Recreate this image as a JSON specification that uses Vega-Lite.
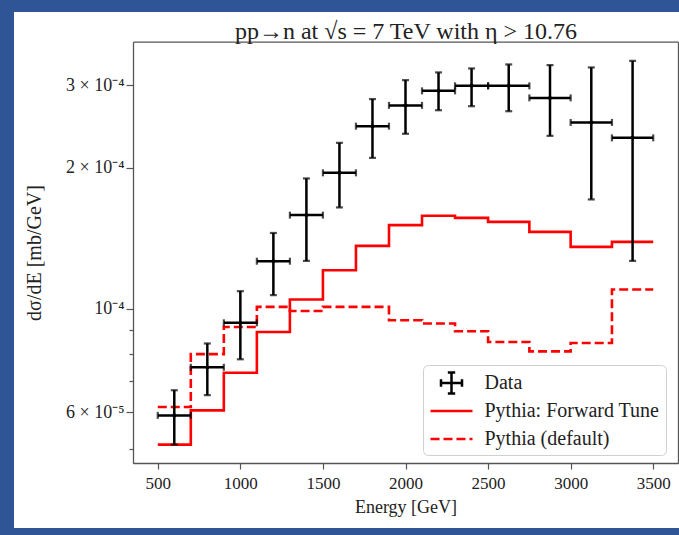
{
  "$schema": "https://vega.github.io/schema/vega-lite/v6.json",
  "width": 665,
  "height": 516,
  "autosize": {"type": "none"},
  "padding": {"left": 14, "top": 12, "right": 0, "bottom": 7},
  "background": "#2f5597",
  "config": {
    "view": {"fill": "white", "stroke": null},
    "font": "Liberation Serif",
    "axis": {
      "grid": false,
      "labelFont": "Liberation Serif",
      "titleFont": "Liberation Serif",
      "labelFontSize": 17,
      "titleFontSize": 18,
      "titleFontWeight": "normal",
      "labelColor": "#222",
      "titleColor": "#222",
      "domainColor": "#555",
      "tickColor": "#555",
      "domainWidth": 1.3,
      "tickWidth": 1.2
    },
    "legend": {
      "orient": "none",
      "legendX": 409,
      "legendY": 353,
      "symbolSize": 441,
      "symbolStrokeWidth": 2.5,
      "labelFont": "Liberation Serif",
      "labelFontSize": 20,
      "labelColor": "#222",
      "labelLimit": 400,
      "padding": 6,
      "rowPadding": -5.5,
      "gridAlign": "all",
      "fillColor": "white",
      "strokeColor": "#d0d0d0",
      "cornerRadius": 5,
      "symbolOffset": 10.5,
      "labelOffset": 21
    }
  },
  "datasets": {
    "data": [
      {"series": "Data", "E": 600, "Elo": 500, "Ehi": 700, "v": 5.91e-5, "lo": 5.12e-5, "hi": 6.69e-5},
      {"series": "Data", "E": 800, "Elo": 700, "Ehi": 900, "v": 7.49e-5, "lo": 6.53e-5, "hi": 8.42e-5},
      {"series": "Data", "E": 1000, "Elo": 900, "Ehi": 1100, "v": 9.32e-5, "lo": 7.79e-5, "hi": 1.089e-4},
      {"series": "Data", "E": 1200, "Elo": 1100, "Ehi": 1300, "v": 1.262e-4, "lo": 1.068e-4, "hi": 1.45e-4},
      {"series": "Data", "E": 1400, "Elo": 1300, "Ehi": 1500, "v": 1.583e-4, "lo": 1.264e-4, "hi": 1.896e-4},
      {"series": "Data", "E": 1600, "Elo": 1500, "Ehi": 1700, "v": 1.949e-4, "lo": 1.644e-4, "hi": 2.259e-4},
      {"series": "Data", "E": 1800, "Elo": 1700, "Ehi": 1900, "v": 2.452e-4, "lo": 2.098e-4, "hi": 2.801e-4},
      {"series": "Data", "E": 2000, "Elo": 1900, "Ehi": 2100, "v": 2.716e-4, "lo": 2.362e-4, "hi": 3.075e-4},
      {"series": "Data", "E": 2200, "Elo": 2100, "Ehi": 2300, "v": 2.917e-4, "lo": 2.652e-4, "hi": 3.194e-4},
      {"series": "Data", "E": 2400, "Elo": 2300, "Ehi": 2500, "v": 2.99e-4, "lo": 2.705e-4, "hi": 3.257e-4},
      {"series": "Data", "E": 2625, "Elo": 2500, "Ehi": 2750, "v": 2.99e-4, "lo": 2.639e-4, "hi": 3.322e-4},
      {"series": "Data", "E": 2875, "Elo": 2750, "Ehi": 3000, "v": 2.818e-4, "lo": 2.338e-4, "hi": 3.311e-4},
      {"series": "Data", "E": 3125, "Elo": 3000, "Ehi": 3250, "v": 2.497e-4, "lo": 1.71e-4, "hi": 3.273e-4},
      {"series": "Data", "E": 3375, "Elo": 3250, "Ehi": 3500, "v": 2.315e-4, "lo": 1.264e-4, "hi": 3.381e-4}
    ],
    "pythia": [
      {"series": "Pythia: Forward Tune", "E": 500, "v": 5.12e-5},
      {"series": "Pythia: Forward Tune", "E": 700, "v": 6.06e-5},
      {"series": "Pythia: Forward Tune", "E": 900, "v": 7.29e-5},
      {"series": "Pythia: Forward Tune", "E": 1100, "v": 8.91e-5},
      {"series": "Pythia: Forward Tune", "E": 1300, "v": 1.045e-4},
      {"series": "Pythia: Forward Tune", "E": 1500, "v": 1.207e-4},
      {"series": "Pythia: Forward Tune", "E": 1700, "v": 1.361e-4},
      {"series": "Pythia: Forward Tune", "E": 1900, "v": 1.507e-4},
      {"series": "Pythia: Forward Tune", "E": 2100, "v": 1.578e-4},
      {"series": "Pythia: Forward Tune", "E": 2300, "v": 1.562e-4},
      {"series": "Pythia: Forward Tune", "E": 2500, "v": 1.531e-4},
      {"series": "Pythia: Forward Tune", "E": 2750, "v": 1.458e-4},
      {"series": "Pythia: Forward Tune", "E": 3000, "v": 1.354e-4},
      {"series": "Pythia: Forward Tune", "E": 3250, "v": 1.388e-4},
      {"series": "Pythia: Forward Tune", "E": 3500, "v": 1.388e-4},
      {"series": "Pythia (default)", "E": 500, "v": 6.16e-5},
      {"series": "Pythia (default)", "E": 700, "v": 7.99e-5},
      {"series": "Pythia (default)", "E": 900, "v": 9.13e-5},
      {"series": "Pythia (default)", "E": 1100, "v": 1.008e-4},
      {"series": "Pythia (default)", "E": 1300, "v": 9.88e-5},
      {"series": "Pythia (default)", "E": 1500, "v": 1.008e-4},
      {"series": "Pythia (default)", "E": 1700, "v": 1.008e-4},
      {"series": "Pythia (default)", "E": 1900, "v": 9.44e-5},
      {"series": "Pythia (default)", "E": 2100, "v": 9.29e-5},
      {"series": "Pythia (default)", "E": 2300, "v": 8.94e-5},
      {"series": "Pythia (default)", "E": 2500, "v": 8.48e-5},
      {"series": "Pythia (default)", "E": 2750, "v": 8.1e-5},
      {"series": "Pythia (default)", "E": 3000, "v": 8.44e-5},
      {"series": "Pythia (default)", "E": 3250, "v": 1.098e-4},
      {"series": "Pythia (default)", "E": 3500, "v": 1.098e-4}
    ]
  },
  "resolve": {"axis": {"x": "independent", "y": "independent"}},
  "layer": [
    {
      "data": {"name": "pythia"},
      "mark": {"type": "line", "interpolate": "step-after", "strokeWidth": 2.6},
      "encoding": {
        "x": {
          "field": "E", "type": "quantitative",
          "scale": {"domain": [350, 3650], "range": [119, 664], "nice": false, "zero": false},
          "axis": {
            "values": [500, 1000, 1500, 2000, 2500, 3000, 3500],
            "offset": -65,
            "tickSize": 6,
            "labelPadding": 6,
            "titlePadding": 7,
            "title": "Energy [GeV]",
            "format": "d"
          }
        },
        "y": {
          "field": "v", "type": "quantitative",
          "scale": {"type": "log", "domain": [4.67e-5, 3.715e-4], "range": [451.3, 29.7], "nice": false, "zero": false},
          "axis": {
            "values": [5e-5, 6e-5, 7e-5, 8e-5, 9e-5, 1e-4, 2e-4, 3e-4],
            "offset": -119,
            "tickSize": {"condition": {"test": "datum.value < 5.5e-5 || (datum.value > 6.5e-5 && datum.value < 9.5e-5)", "value": 4}, "value": 7},
            "labelPadding": 2,
            "labelFontSize": 18,
            "labelExpr": "datum.value > 2.5e-4 ? '3 × 10⁻⁴' : datum.value > 1.5e-4 ? '2 × 10⁻⁴' : datum.value > 9.5e-5 ? '10⁻⁴' : (datum.value > 5.5e-5 && datum.value < 6.5e-5) ? '6 × 10⁻⁵' : ''",
            "title": "dσ/dE [mb/GeV]",
            "titleFontSize": 20,
            "titlePadding": 21
          }
        },
        "color": {
          "field": "series", "type": "nominal",
          "scale": {"domain": ["Data", "Pythia: Forward Tune", "Pythia (default)"], "range": ["black", "#ff0000", "#ff0000"]},
          "legend": {"title": null, "orient": "none", "legendX": 409, "legendY": 353}
        },
        "strokeDash": {
          "field": "series", "type": "nominal",
          "scale": {"domain": ["Data", "Pythia: Forward Tune", "Pythia (default)"], "range": [[1, 0], [1, 0], [9, 4]]},
          "legend": {"title": null, "orient": "none", "legendX": 409, "legendY": 353}
        }
      }
    },
    {
      "data": {"name": "data"},
      "mark": {"type": "rule", "color": "black", "strokeWidth": 2.5},
      "encoding": {
        "x": {"field": "E", "type": "quantitative", "axis": null},
        "y": {"field": "lo", "type": "quantitative", "axis": null},
        "y2": {"field": "hi"}
      }
    },
    {
      "data": {"name": "data"},
      "mark": {"type": "rule", "color": "black", "strokeWidth": 2.5},
      "encoding": {
        "x": {"field": "Elo", "type": "quantitative", "axis": null},
        "x2": {"field": "Ehi"},
        "y": {"field": "v", "type": "quantitative", "axis": null}
      }
    },
    {
      "data": {"name": "data"},
      "mark": {"type": "tick", "orient": "horizontal", "color": "black", "size": 7, "thickness": 2.2},
      "encoding": {
        "x": {"field": "E", "type": "quantitative", "axis": null},
        "y": {"field": "lo", "type": "quantitative", "axis": null}
      }
    },
    {
      "data": {"name": "data"},
      "mark": {"type": "tick", "orient": "horizontal", "color": "black", "size": 7, "thickness": 2.2},
      "encoding": {
        "x": {"field": "E", "type": "quantitative", "axis": null},
        "y": {"field": "hi", "type": "quantitative", "axis": null}
      }
    },
    {
      "data": {"name": "data"},
      "mark": {"type": "tick", "orient": "vertical", "color": "black", "size": 7, "thickness": 2.2},
      "encoding": {
        "x": {"field": "Elo", "type": "quantitative", "axis": null},
        "y": {"field": "v", "type": "quantitative", "axis": null}
      }
    },
    {
      "data": {"name": "data"},
      "mark": {"type": "tick", "orient": "vertical", "color": "black", "size": 7, "thickness": 2.2},
      "encoding": {
        "x": {"field": "Ehi", "type": "quantitative", "axis": null},
        "y": {"field": "v", "type": "quantitative", "axis": null}
      }
    },
    {
      "data": {"name": "data"},
      "mark": {"type": "point", "filled": false, "size": 12, "strokeWidth": 2.5, "opacity": 1},
      "encoding": {
        "x": {
          "field": "E", "type": "quantitative",
          "axis": {
            "orient": "top", "offset": -29.7, "labels": false, "ticks": false, "domain": true,
            "title": "pp→n at √s = 7 TeV with η > 10.76",
            "titleFontSize": 24,
            "titleBaseline": "alphabetic",
            "titlePadding": 3.5
          }
        },
        "y": {
          "field": "v", "type": "quantitative",
          "axis": {"orient": "right", "offset": -1, "labels": false, "ticks": false, "title": null, "domain": true}
        },
        "color": {
          "field": "series", "type": "nominal",
          "scale": {"domain": ["Data", "Pythia: Forward Tune", "Pythia (default)"], "range": ["black", "#ff0000", "#ff0000"]},
          "legend": {"title": null, "orient": "none", "legendX": 409, "legendY": 353}
        },
        "shape": {
          "field": "series", "type": "nominal",
          "scale": {"domain": ["Data", "Pythia: Forward Tune", "Pythia (default)"], "range": ["M-1,0H1M0,-1V1M-1,-0.35V0.35M1,-0.35V0.35M-0.35,-1H0.35M-0.35,1H0.35", "M-2,0H2", "M-2,0H2"]},
          "legend": {"title": null, "orient": "none", "legendX": 409, "legendY": 353}
        }
      }
    }
  ]
}
